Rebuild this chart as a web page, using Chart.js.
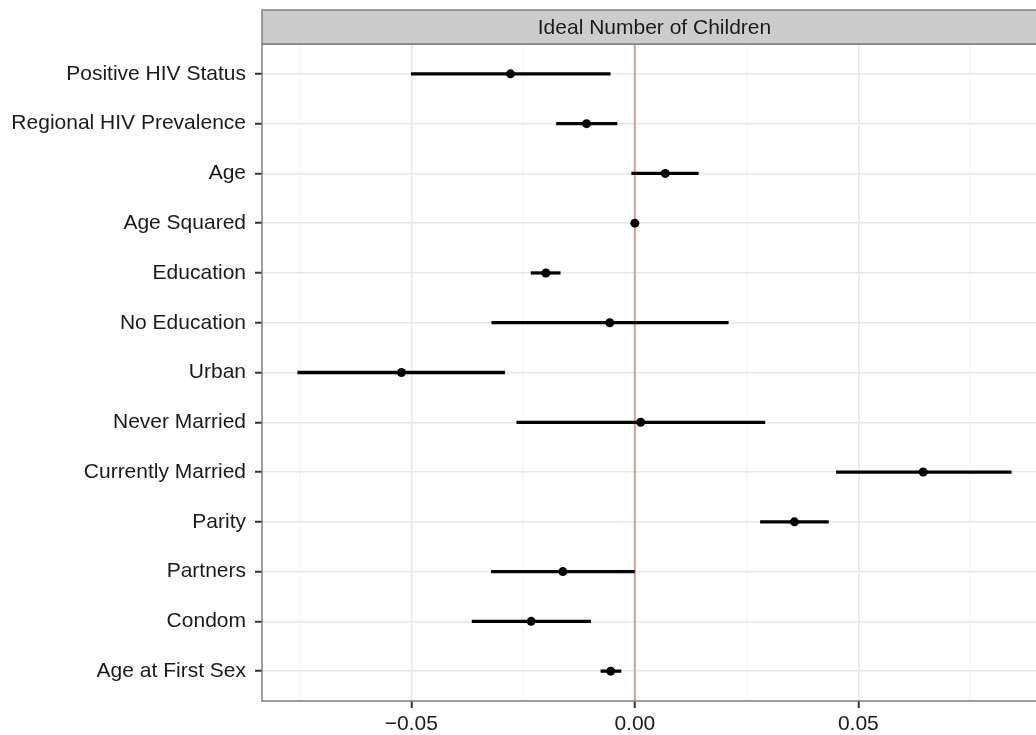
<!DOCTYPE html>
<html>
<head>
<meta charset="utf-8">
<title>Ideal Number of Children</title>
<script src="https://cdn.jsdelivr.net/npm/chart.js@4/dist/chart.umd.min.js"></script>
<style>
  html, body { margin: 0; padding: 0; background: #ffffff; overflow: hidden; }
  #wrap { position: relative; width: 1055px; height: 735px; }
</style>
</head>
<body>
<div id="wrap"><canvas id="chart"></canvas></div>
<script>
// Coefficient estimates with confidence intervals, top row first
const categories = [
  'Positive HIV Status', 'Regional HIV Prevalence', 'Age', 'Age Squared',
  'Education', 'No Education', 'Urban', 'Never Married', 'Currently Married',
  'Parity', 'Partners', 'Condom', 'Age at First Sex'
];
const estimates = [-0.0278, -0.0108, 0.0068, 0.0000, -0.0199, -0.0056, -0.0522,
                   0.0013, 0.0645, 0.0357, -0.0161, -0.0232, -0.0054];
const lowerBounds = [-0.0500, -0.0175, -0.0007, 0.0000, -0.0232, -0.0320, -0.0754,
                     -0.0264, 0.0451, 0.0281, -0.0321, -0.0364, -0.0076];
const upperBounds = [-0.0055, -0.0040, 0.0142, 0.0000, -0.0167, 0.0209, -0.0291,
                     0.0291, 0.0842, 0.0433, -0.0001, -0.0099, -0.0031];

const panelTitle = 'Ideal Number of Children';
const xMajorTicks = [-0.05, 0, 0.05];
const xMinorTicks = [-0.075, -0.025, 0.025, 0.075];
const referenceValue = 0;
const xLimits = [-0.0834, 0.0922];

const FONT = "'Liberation Sans', Arial, Helvetica, sans-serif";
const rowIndex = categories.map((_, i) => i + 1);
const isMajor = v => xMajorTicks.some(m => Math.abs(m - v) < 1e-9);
const fmt = v => (v < -1e-9 ? '\u2212' : '') + Math.abs(v).toFixed(2);

// Grey strip with the panel title, above the plotting area
const stripPlugin = {
  id: 'strip',
  afterDraw(chart) {
    const { ctx, chartArea } = chart;
    const h = 34;
    ctx.save();
    ctx.fillStyle = '#CCCCCC';
    ctx.fillRect(chartArea.left, chartArea.top - h, chartArea.right - chartArea.left + 20, h);
    ctx.strokeStyle = '#7F7F7F';
    ctx.lineWidth = 1.5;
    ctx.strokeRect(chartArea.left, chartArea.top - h, chartArea.right - chartArea.left, h);
    ctx.fillStyle = '#1a1a1a';
    ctx.font = '21px ' + FONT;
    ctx.textAlign = 'center';
    ctx.textBaseline = 'middle';
    ctx.fillText(panelTitle, (chartArea.left + chartArea.right) / 2, chartArea.top - h / 2 + 1);
    ctx.restore();
  }
};

// Vertical reference line at zero, under the estimates
const refLinePlugin = {
  id: 'refLine',
  beforeDatasetsDraw(chart) {
    const { ctx, chartArea, scales } = chart;
    const x = scales.x.getPixelForValue(referenceValue);
    ctx.save();
    ctx.strokeStyle = 'rgba(190, 120, 120, 0.65)';
    ctx.lineWidth = 2;
    ctx.beginPath();
    ctx.moveTo(x, chartArea.top);
    ctx.lineTo(x, chartArea.bottom);
    ctx.stroke();
    ctx.restore();
  }
};

// Panel frame drawn over everything inside the plot
const framePlugin = {
  id: 'frame',
  afterDatasetsDraw(chart) {
    const { ctx, chartArea } = chart;
    ctx.save();
    ctx.strokeStyle = '#7F7F7F';
    ctx.lineWidth = 1.5;
    ctx.strokeRect(chartArea.left, chartArea.top, chartArea.right - chartArea.left, chartArea.bottom - chartArea.top);
    ctx.restore();
  }
};

new Chart(document.getElementById('chart'), {
  type: 'bar',
  data: {
    datasets: [
      {
        type: 'scatter',
        data: estimates.map((v, i) => ({ x: v, y: rowIndex[i] })),
        backgroundColor: '#000000',
        borderWidth: 0,
        pointRadius: 4.5,
        pointHoverRadius: 4.5,
        order: 0
      },
      {
        type: 'bar',
        data: lowerBounds.map((lo, i) => ({ x: [lo, upperBounds[i]], y: rowIndex[i] })),
        backgroundColor: '#000000',
        borderWidth: 0,
        barThickness: 2.6,
        order: 1
      }
    ]
  },
  options: {
    indexAxis: 'y',
    responsive: true,
    maintainAspectRatio: false,
    animation: false,
    events: [],
    layout: { padding: { top: 44, right: 8, left: 0, bottom: 0 } },
    plugins: { legend: { display: false }, tooltip: { enabled: false } },
    scales: {
      x: {
        type: 'linear',
        position: 'bottom',
        min: xLimits[0],
        max: xLimits[1],
        offset: false,
        afterBuildTicks: s => { s.ticks = [...xMajorTicks, ...xMinorTicks].sort((a, b) => a - b).map(v => ({ value: v })); },
        afterFit: s => { s.height = 34; },
        border: { display: false },
        grid: {
          offset: false,
          drawOnChartArea: true,
          drawTicks: true,
          tickLength: 7,
          color: c => isMajor(c.tick.value) ? '#E6E6E6' : '#F7F7F7',
          lineWidth: 1.5,
          tickColor: c => isMajor(c.tick.value) ? '#333333' : 'rgba(0,0,0,0)',
          tickWidth: 2
        },
        ticks: {
          autoSkip: false,
          maxRotation: 0,
          padding: 4,
          color: '#1a1a1a',
          font: { family: FONT, size: 21 },
          callback: v => isMajor(v) ? fmt(v) : ''
        }
      },
      y: {
        type: 'linear',
        reverse: true,
        min: 0.4,
        max: categories.length + 0.6,
        offset: false,
        afterBuildTicks: s => { s.ticks = rowIndex.map(v => ({ value: v })); },
        afterFit: s => { s.width = 262; },
        border: { display: false },
        grid: {
          offset: false,
          color: '#E6E6E6',
          lineWidth: 1.5,
          drawTicks: true,
          tickLength: 7,
          tickColor: '#333333',
          tickWidth: 2
        },
        ticks: {
          autoSkip: false,
          padding: 9,
          color: '#1a1a1a',
          font: { family: FONT, size: 21 },
          callback: v => categories[Math.round(v) - 1] || ''
        }
      }
    }
  },
  plugins: [refLinePlugin, framePlugin, stripPlugin]
});
</script>
</body>
</html>
